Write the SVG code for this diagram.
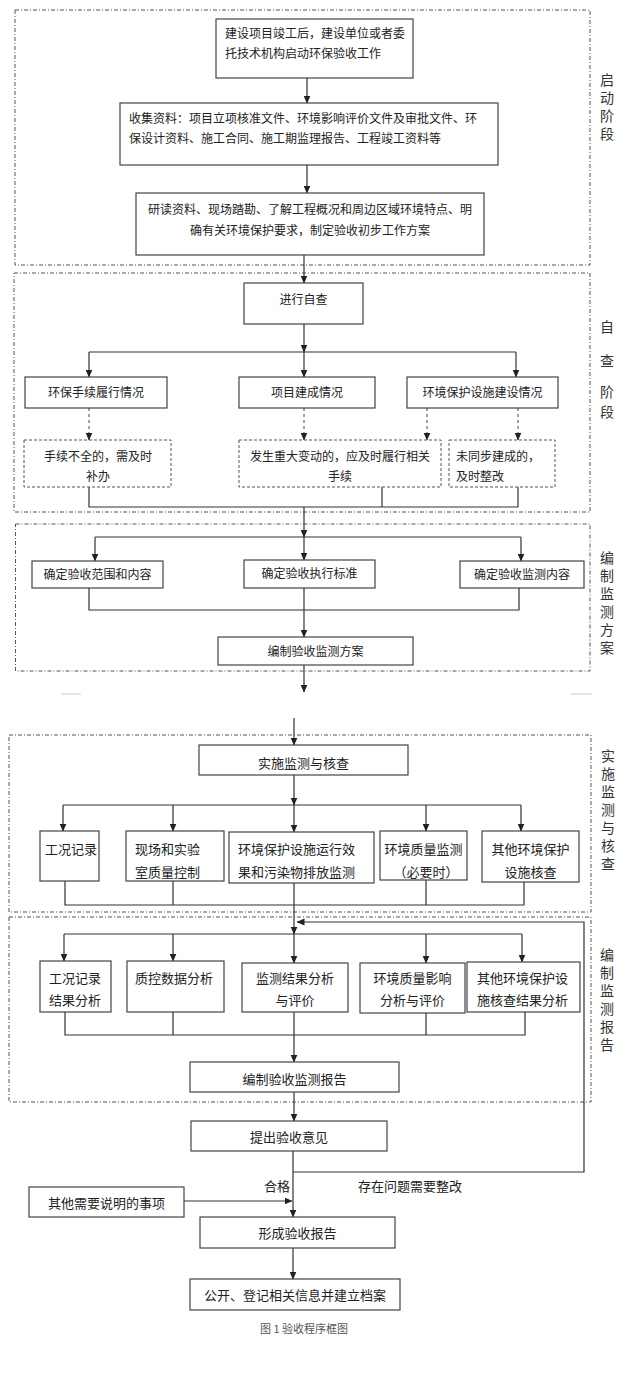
<svg xmlns="http://www.w3.org/2000/svg" width="640" height="1389" viewBox="0 0 640 1389">
<style>
.bg{fill:#fff}
.frame{fill:none;stroke:#555;stroke-width:1;stroke-dasharray:4 2 1 2}
.box{fill:#fff;stroke:#444;stroke-width:1.2}
.dbox{fill:#fff;stroke:#555;stroke-width:1;stroke-dasharray:3 2}
.t{font-family:"Noto Sans CJK SC","Liberation Sans",sans-serif;font-size:12px;fill:#222}
.t13{font-family:"Noto Sans CJK SC","Liberation Sans",sans-serif;font-size:13px;fill:#222}
.c{text-anchor:middle}
.lab{font-family:"Noto Sans CJK SC","Liberation Sans",sans-serif;font-size:14px;fill:#333;text-anchor:middle}
.cap{font-family:"Noto Sans CJK SC","Liberation Sans",sans-serif;font-size:11px;fill:#555;text-anchor:middle}
.ln{fill:none;stroke:#333;stroke-width:1.2}
.dl{fill:none;stroke:#444;stroke-width:1;stroke-dasharray:3 3}
.gl{fill:none;stroke:#ccc;stroke-width:1.2}
</style>
<defs>
<marker id="ah" markerUnits="userSpaceOnUse" markerWidth="8" markerHeight="8" refX="7.5" refY="3.5" orient="auto">
<path d="M0,0 L8,3.5 L0,7 z" fill="#222"/>
</marker>
</defs>
<rect class="bg" x="0" y="0" width="640" height="1389"/>

<g id="frames">
<rect class="frame" x="15" y="10" width="575" height="255"/>
<rect class="frame" x="14" y="273" width="576" height="239"/>
<rect class="frame" x="15.5" y="524" width="574.5" height="147"/>
<rect class="frame" x="9" y="735" width="582" height="177"/>
<rect class="frame" x="9" y="917" width="582" height="185"/>
</g>

<g id="stage-labels">
<text class="lab"><tspan x="607" y="85">启</tspan><tspan x="607" y="103">动</tspan><tspan x="607" y="121">阶</tspan><tspan x="607" y="139">段</tspan></text>
<text class="lab"><tspan x="607" y="332">自</tspan><tspan x="607" y="366">查</tspan><tspan x="607" y="397">阶</tspan><tspan x="607" y="417">段</tspan></text>
<text class="lab"><tspan x="607" y="563">编</tspan><tspan x="607" y="581">制</tspan><tspan x="607" y="599">监</tspan><tspan x="607" y="617">测</tspan><tspan x="607" y="635">方</tspan><tspan x="607" y="653">案</tspan></text>
<text class="lab"><tspan x="608" y="761">实</tspan><tspan x="608" y="779">施</tspan><tspan x="608" y="797">监</tspan><tspan x="608" y="815">测</tspan><tspan x="608" y="833">与</tspan><tspan x="608" y="851">核</tspan><tspan x="608" y="869">查</tspan></text>
<text class="lab"><tspan x="607" y="960">编</tspan><tspan x="607" y="978">制</tspan><tspan x="607" y="996">监</tspan><tspan x="607" y="1014">测</tspan><tspan x="607" y="1032">报</tspan><tspan x="607" y="1050">告</tspan></text>
</g>

<g id="connectors">
<path class="ln" d="M307,78 V103" marker-end="url(#ah)"/>
<path class="ln" d="M307,165 V193" marker-end="url(#ah)"/>
<path class="ln" d="M304,255 V283" marker-end="url(#ah)"/>
<path class="ln" d="M304,324 V352" marker-end="url(#ah)"/>
<path class="ln" d="M89,352 H516"/>
<path class="ln" d="M89,352 V377" marker-end="url(#ah)"/>
<path class="ln" d="M304,352 V377" marker-end="url(#ah)"/>
<path class="ln" d="M516,352 V377" marker-end="url(#ah)"/>
<path class="dl" d="M89,408 V440" marker-end="url(#ah)"/>
<path class="dl" d="M304,408 V440" marker-end="url(#ah)"/>
<path class="dl" d="M427,408 V440" marker-end="url(#ah)"/>
<path class="dl" d="M518,408 V440" marker-end="url(#ah)"/>
<path class="ln" d="M89,487 V507 H518 M382,487 V507 M518,487 V507"/>
<path class="ln" d="M304,507 V537" marker-end="url(#ah)"/>
<path class="ln" d="M95,537 H521"/>
<path class="ln" d="M95,537 V561" marker-end="url(#ah)"/>
<path class="ln" d="M304,537 V560" marker-end="url(#ah)"/>
<path class="ln" d="M521,537 V561" marker-end="url(#ah)"/>
<path class="ln" d="M89,588 V610 H519 V588"/>
<path class="ln" d="M304,588 V637" marker-end="url(#ah)"/>
<path class="ln" d="M304,665 V692" marker-end="url(#ah)"/>
<path class="gl" d="M61,694 H81 M571,694 H592"/>
<path class="ln" d="M294,718 V745" marker-end="url(#ah)"/>
<path class="ln" d="M294,775 V805" marker-end="url(#ah)"/>
<path class="ln" d="M63,805 H521"/>
<path class="ln" d="M63,805 V831" marker-end="url(#ah)"/>
<path class="ln" d="M173,805 V831" marker-end="url(#ah)"/>
<path class="ln" d="M294,805 V832" marker-end="url(#ah)"/>
<path class="ln" d="M426,805 V831" marker-end="url(#ah)"/>
<path class="ln" d="M521,805 V831" marker-end="url(#ah)"/>
<path class="ln" d="M65,881 V905 H524 V882 M173,881 V905 M426,880 V905"/>
<path class="ln" d="M294,883 V934" marker-end="url(#ah)"/>
<path class="ln" d="M64,934 H522"/>
<path class="ln" d="M64,934 V961" marker-end="url(#ah)"/>
<path class="ln" d="M173,934 V961" marker-end="url(#ah)"/>
<path class="ln" d="M294,934 V963" marker-end="url(#ah)"/>
<path class="ln" d="M426,934 V963" marker-end="url(#ah)"/>
<path class="ln" d="M522,934 V962" marker-end="url(#ah)"/>
<path class="ln" d="M65,1012 V1035 H525 V1012 M173,1012 V1035 M426,1013 V1035"/>
<path class="ln" d="M294,1012 V1062" marker-end="url(#ah)"/>
<path class="ln" d="M294,1092 V1121" marker-end="url(#ah)"/>
<path class="ln" d="M293,1151 V1217" marker-end="url(#ah)"/>
<path class="ln" d="M293,1172 H584 V922 H297" marker-end="url(#ah)"/>
<path class="ln" d="M184,1201 H292" marker-end="url(#ah)"/>
<path class="ln" d="M293,1248 V1279" marker-end="url(#ah)"/>
<text class="t13" x="290" y="1191" text-anchor="end">合格</text>
<text class="t13" x="358" y="1191">存在问题需要整改</text>
</g>

<g id="n-start">
<rect class="box" x="216" y="19" width="197" height="59"/>
<text class="t" x="225" y="38">建设项目竣工后，建设单位或者委</text>
<text class="t" x="225" y="58">托技术机构启动环保验收工作</text>
</g>
<g id="n-collect">
<rect class="box" x="120" y="103" width="378" height="62"/>
<text class="t" x="129" y="123">收集资料：项目立项核准文件、环境影响评价文件及审批文件、环</text>
<text class="t" x="129" y="143">保设计资料、施工合同、施工期监理报告、工程竣工资料等</text>
</g>
<g id="n-study">
<rect class="box" x="136" y="193" width="348" height="62"/>
<text class="t c" x="310" y="214">研读资料、现场踏勘、了解工程概况和周边区域环境特点、明</text>
<text class="t c" x="310" y="235">确有关环境保护要求，制定验收初步工作方案</text>
</g>

<g id="n-selfcheck">
<rect class="box" x="244" y="283" width="119" height="41"/>
<text class="t c" x="303.5" y="304">进行自查</text>
</g>
<g id="n-procedures">
<rect class="box" x="25" y="377" width="142" height="31"/>
<text class="t c" x="96" y="397">环保手续履行情况</text>
</g>
<g id="n-built">
<rect class="box" x="239" y="377" width="136" height="31"/>
<text class="t c" x="307" y="397">项目建成情况</text>
</g>
<g id="n-facilities">
<rect class="box" x="407" y="377" width="151" height="31"/>
<text class="t c" x="482.5" y="397">环境保护设施建设情况</text>
</g>
<g id="n-incomplete">
<rect class="dbox" x="24" y="440" width="147" height="47"/>
<text class="t c" x="98" y="461">手续不全的，需及时</text>
<text class="t c" x="98" y="481">补办</text>
</g>
<g id="n-change">
<rect class="dbox" x="239" y="440" width="202" height="47"/>
<text class="t c" x="340" y="461">发生重大变动的，应及时履行相关</text>
<text class="t c" x="340" y="481">手续</text>
</g>
<g id="n-notsync">
<rect class="dbox" x="449" y="440" width="106" height="47"/>
<text class="t" x="456" y="461">未同步建成的，</text>
<text class="t" x="456" y="481">及时整改</text>
</g>

<g id="n-scope">
<rect class="box" x="32" y="561" width="131" height="27"/>
<text class="t c" x="97.5" y="579">确定验收范围和内容</text>
</g>
<g id="n-standard">
<rect class="box" x="244" y="560" width="131" height="28"/>
<text class="t c" x="309.5" y="578">确定验收执行标准</text>
</g>
<g id="n-content">
<rect class="box" x="460" y="561" width="124" height="27"/>
<text class="t c" x="522" y="579">确定验收监测内容</text>
</g>
<g id="n-plan">
<rect class="box" x="218" y="637" width="195" height="28"/>
<text class="t c" x="315.5" y="656">编制验收监测方案</text>
</g>

<g id="n-implement">
<rect class="box" x="199" y="745" width="209" height="30"/>
<text class="t13 c" x="303.5" y="768">实施监测与核查</text>
</g>
<g id="n-record">
<rect class="box" x="40" y="831" width="59" height="50"/>
<text class="t13" x="45" y="854">工况记录</text>
</g>
<g id="n-qc">
<rect class="box" x="126" y="831" width="98" height="50"/>
<text class="t13" x="135" y="854">现场和实验</text>
<text class="t13" x="135" y="877">室质量控制</text>
</g>
<g id="n-emission">
<rect class="box" x="229" y="832" width="145" height="51"/>
<text class="t13" x="238" y="854">环境保护设施运行效</text>
<text class="t13" x="238" y="877">果和污染物排放监测</text>
</g>
<g id="n-envq">
<rect class="box" x="380" y="831" width="87" height="49"/>
<text class="t13 c" x="423.5" y="854">环境质量监测</text>
<text class="t13 c" x="426" y="877">（必要时）</text>
</g>
<g id="n-other">
<rect class="box" x="482" y="831" width="97" height="51"/>
<text class="t13 c" x="530.5" y="854">其他环境保护</text>
<text class="t13 c" x="530.5" y="877">设施核查</text>
</g>

<g id="n-record-an">
<rect class="box" x="40" y="961" width="71" height="51"/>
<text class="t13" x="49" y="983">工况记录</text>
<text class="t13" x="49" y="1005">结果分析</text>
</g>
<g id="n-qc-an">
<rect class="box" x="127" y="961" width="97" height="51"/>
<text class="t13" x="135" y="983">质控数据分析</text>
</g>
<g id="n-result-an">
<rect class="box" x="242" y="963" width="106" height="49"/>
<text class="t13 c" x="295" y="983">监测结果分析</text>
<text class="t13 c" x="295" y="1005">与评价</text>
</g>
<g id="n-envq-an">
<rect class="box" x="360" y="963" width="105" height="50"/>
<text class="t13 c" x="412.5" y="983">环境质量影响</text>
<text class="t13 c" x="412.5" y="1005">分析与评价</text>
</g>
<g id="n-other-an">
<rect class="box" x="467" y="962" width="113" height="50"/>
<text class="t13" x="477" y="983">其他环境保护设</text>
<text class="t13" x="477" y="1005">施核查结果分析</text>
</g>
<g id="n-report">
<rect class="box" x="190" y="1062" width="209" height="30"/>
<text class="t13 c" x="294.5" y="1084">编制验收监测报告</text>
</g>

<g id="n-opinion">
<rect class="box" x="191" y="1121" width="196" height="30"/>
<text class="t13 c" x="289" y="1142">提出验收意见</text>
</g>
<g id="n-notes">
<rect class="box" x="29" y="1187" width="155" height="30"/>
<text class="t13 c" x="106.5" y="1208">其他需要说明的事项</text>
</g>
<g id="n-final">
<rect class="box" x="200" y="1217" width="195" height="31"/>
<text class="t13 c" x="297.5" y="1238">形成验收报告</text>
</g>
<g id="n-archive">
<rect class="box" x="190" y="1279" width="210" height="31"/>
<text class="t13 c" x="295" y="1300">公开、登记相关信息并建立档案</text>
</g>
<text class="cap" x="304" y="1333">图 1  验收程序框图</text>
</svg>
